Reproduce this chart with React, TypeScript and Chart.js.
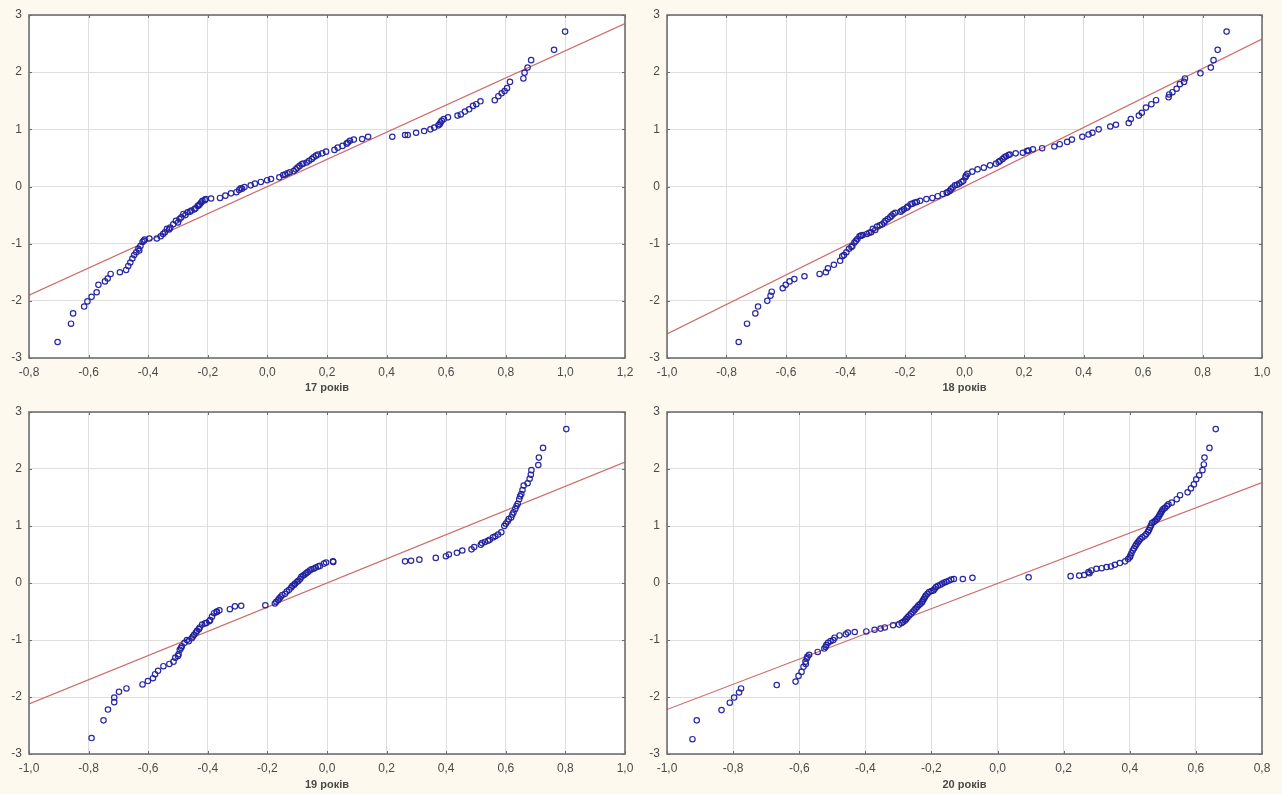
import React, { useEffect, useRef } from "react";
import { Chart, registerables } from "chart.js";

Chart.register(...registerables);

// Normal probability plots: observed value (x) vs expected normal value (y)

const points17: [number, number][] = [
  [-0.704, -2.72], [-0.659, -2.4], [-0.652, -2.22], [-0.615, -2.1], [-0.604, -2.01],
  [-0.59, -1.93], [-0.573, -1.85], [-0.567, -1.72], [-0.545, -1.66], [-0.536, -1.61],
  [-0.526, -1.53], [-0.495, -1.5], [-0.474, -1.46], [-0.467, -1.39], [-0.46, -1.33],
  [-0.453, -1.26], [-0.447, -1.2], [-0.44, -1.15], [-0.433, -1.09], [-0.426, -1.04],
  [-0.419, -0.97], [-0.412, -0.93], [-0.396, -0.91], [-0.371, -0.91], [-0.358, -0.87],
  [-0.344, -0.8], [-0.337, -0.74], [-0.326, -0.72], [-0.316, -0.66], [-0.307, -0.6],
  [-0.289, -0.54], [-0.282, -0.48], [-0.268, -0.45], [-0.255, -0.42], [-0.241, -0.38],
  [-0.234, -0.34], [-0.227, -0.31], [-0.218, -0.25], [-0.207, -0.22], [-0.189, -0.21],
  [-0.159, -0.2], [-0.141, -0.16], [-0.122, -0.12], [-0.104, -0.1], [-0.09, -0.03],
  [-0.077, -0.01], [-0.056, 0.02], [-0.042, 0.05], [-0.022, 0.08], [-0.001, 0.11],
  [0.012, 0.13], [0.04, 0.16], [0.053, 0.2], [0.067, 0.23], [0.088, 0.27],
  [0.101, 0.33], [0.115, 0.39], [0.132, 0.42], [0.149, 0.48], [0.163, 0.54],
  [0.184, 0.58], [0.197, 0.61], [0.225, 0.64], [0.236, 0.68], [0.252, 0.71],
  [0.266, 0.75], [0.277, 0.8], [0.29, 0.82], [0.318, 0.83], [0.338, 0.87],
  [0.419, 0.87], [0.462, 0.9], [0.471, 0.9], [0.499, 0.94], [0.526, 0.97],
  [0.547, 1.0], [0.56, 1.03], [0.574, 1.07], [0.581, 1.12], [0.592, 1.18],
  [0.606, 1.21], [0.638, 1.24], [0.649, 1.26], [0.663, 1.31], [0.677, 1.35],
  [0.69, 1.41], [0.701, 1.44], [0.715, 1.49], [0.763, 1.51], [0.775, 1.58],
  [0.786, 1.63], [0.796, 1.67], [0.804, 1.72], [0.814, 1.83], [0.859, 1.89],
  [0.863, 1.99], [0.873, 2.08], [0.885, 2.21], [0.962, 2.39], [0.999, 2.71],
  [-0.43, -1.12], [-0.415, -0.95], [-0.35, -0.83], [-0.33, -0.75], [-0.3, -0.63],
  [-0.295, -0.57], [-0.275, -0.5], [-0.26, -0.44], [-0.245, -0.4], [-0.23, -0.33],
  [-0.222, -0.28], [-0.21, -0.24], [-0.095, -0.06], [-0.085, -0.04], [0.06, 0.21],
  [0.075, 0.25], [0.095, 0.3], [0.108, 0.36], [0.12, 0.4], [0.14, 0.45],
  [0.155, 0.51], [0.17, 0.56], [0.27, 0.77], [0.578, 1.09], [0.585, 1.15],
];

const points18: [number, number][] = [
  [-0.759, -2.72], [-0.731, -2.4], [-0.703, -2.22], [-0.694, -2.1], [-0.663, -2.0],
  [-0.652, -1.91], [-0.648, -1.84], [-0.611, -1.78], [-0.601, -1.72], [-0.588, -1.66],
  [-0.572, -1.62], [-0.538, -1.57], [-0.487, -1.53], [-0.466, -1.5], [-0.459, -1.43],
  [-0.439, -1.37], [-0.418, -1.3], [-0.411, -1.22], [-0.397, -1.15], [-0.388, -1.09],
  [-0.377, -1.04], [-0.37, -0.98], [-0.36, -0.92], [-0.353, -0.87], [-0.342, -0.85],
  [-0.328, -0.83], [-0.314, -0.8], [-0.308, -0.74], [-0.294, -0.7], [-0.277, -0.66],
  [-0.266, -0.6], [-0.25, -0.54], [-0.239, -0.48], [-0.215, -0.44], [-0.204, -0.4],
  [-0.194, -0.37], [-0.181, -0.31], [-0.167, -0.28], [-0.149, -0.25], [-0.128, -0.22],
  [-0.108, -0.2], [-0.09, -0.17], [-0.073, -0.13], [-0.057, -0.1], [-0.046, -0.05],
  [-0.032, 0.02], [-0.018, 0.05], [-0.004, 0.1], [0.003, 0.16], [0.01, 0.22],
  [0.026, 0.26], [0.044, 0.3], [0.065, 0.33], [0.086, 0.37], [0.106, 0.4],
  [0.12, 0.45], [0.134, 0.51], [0.148, 0.55], [0.172, 0.58], [0.196, 0.59],
  [0.21, 0.62], [0.23, 0.65], [0.261, 0.67], [0.302, 0.7], [0.32, 0.74],
  [0.345, 0.78], [0.361, 0.82], [0.396, 0.87], [0.417, 0.91], [0.43, 0.94],
  [0.451, 1.0], [0.49, 1.05], [0.509, 1.08], [0.552, 1.11], [0.559, 1.18],
  [0.586, 1.24], [0.596, 1.29], [0.61, 1.38], [0.628, 1.44], [0.644, 1.51],
  [0.686, 1.56], [0.688, 1.61], [0.699, 1.65], [0.713, 1.71], [0.724, 1.79],
  [0.738, 1.83], [0.741, 1.89], [0.793, 1.98], [0.828, 2.08], [0.837, 2.21],
  [0.851, 2.39], [0.881, 2.71],
  [-0.405, -1.2], [-0.38, -1.06], [-0.365, -0.95], [-0.348, -0.86], [-0.32, -0.81],
  [-0.3, -0.76], [-0.285, -0.68], [-0.27, -0.63], [-0.258, -0.57], [-0.245, -0.51],
  [-0.233, -0.46], [-0.21, -0.42], [-0.19, -0.35], [-0.175, -0.3], [-0.16, -0.27],
  [-0.06, -0.11], [-0.05, -0.08], [-0.04, -0.02], [-0.025, 0.03], [-0.01, 0.08],
  [0.005, 0.19], [0.115, 0.43], [0.128, 0.48], [0.14, 0.53], [0.152, 0.56],
  [0.215, 0.63],
];

const points19: [number, number][] = [
  [-0.79, -2.72], [-0.75, -2.41], [-0.735, -2.22], [-0.714, -2.09], [-0.714, -2.01],
  [-0.698, -1.91], [-0.673, -1.85], [-0.619, -1.78], [-0.601, -1.72], [-0.584, -1.67],
  [-0.577, -1.6], [-0.567, -1.54], [-0.549, -1.46], [-0.529, -1.42], [-0.515, -1.38],
  [-0.509, -1.31], [-0.498, -1.25], [-0.494, -1.17], [-0.487, -1.11], [-0.478, -1.05],
  [-0.464, -1.02], [-0.454, -0.97], [-0.446, -0.91], [-0.436, -0.84], [-0.427, -0.78],
  [-0.419, -0.73], [-0.405, -0.7], [-0.392, -0.65], [-0.386, -0.59], [-0.379, -0.53],
  [-0.37, -0.5], [-0.361, -0.48], [-0.326, -0.46], [-0.309, -0.41], [-0.288, -0.4],
  [-0.207, -0.39], [-0.175, -0.36], [-0.164, -0.3], [-0.155, -0.24], [-0.141, -0.19],
  [-0.127, -0.12], [-0.116, -0.05], [-0.107, -0.01], [-0.096, 0.04], [-0.086, 0.11],
  [-0.075, 0.15], [-0.065, 0.19], [-0.052, 0.24], [-0.038, 0.27], [-0.024, 0.3],
  [-0.01, 0.34], [-0.003, 0.36], [0.021, 0.37], [0.262, 0.38], [0.282, 0.39],
  [0.31, 0.41], [0.365, 0.44], [0.399, 0.47], [0.409, 0.5], [0.436, 0.53],
  [0.454, 0.57], [0.485, 0.59], [0.494, 0.63], [0.516, 0.67], [0.53, 0.72],
  [0.546, 0.76], [0.557, 0.8], [0.574, 0.85], [0.585, 0.89], [0.595, 1.0],
  [0.606, 1.08], [0.618, 1.15], [0.626, 1.24], [0.632, 1.3], [0.64, 1.39],
  [0.645, 1.47], [0.652, 1.56], [0.656, 1.63], [0.66, 1.71], [0.673, 1.75],
  [0.68, 1.83], [0.684, 1.9], [0.686, 1.98], [0.709, 2.07], [0.711, 2.2],
  [0.725, 2.37], [0.803, 2.7],
  [-0.5, -1.28], [-0.49, -1.14], [-0.47, -1.0], [-0.45, -0.94], [-0.44, -0.87],
  [-0.43, -0.81], [-0.41, -0.71], [-0.395, -0.67], [-0.37, -0.51], [-0.17, -0.33],
  [-0.16, -0.27], [-0.15, -0.21], [-0.135, -0.15], [-0.12, -0.08], [-0.11, -0.03],
  [-0.1, 0.02], [-0.09, 0.07], [-0.08, 0.13], [-0.07, 0.17], [-0.058, 0.22],
  [-0.045, 0.25], [-0.03, 0.29], [0.52, 0.7], [0.54, 0.74], [0.565, 0.82],
  [0.6, 1.04], [0.61, 1.12], [0.622, 1.2], [0.636, 1.35], [0.648, 1.52],
  [0.02, 0.38],
];

const points20: [number, number][] = [
  [-0.923, -2.74], [-0.91, -2.41], [-0.835, -2.23], [-0.81, -2.1], [-0.797, -2.01],
  [-0.782, -1.92], [-0.776, -1.85], [-0.668, -1.79], [-0.611, -1.73], [-0.602, -1.63],
  [-0.593, -1.56], [-0.587, -1.47], [-0.581, -1.38], [-0.577, -1.32], [-0.57, -1.26],
  [-0.544, -1.21], [-0.524, -1.15], [-0.518, -1.09], [-0.513, -1.05], [-0.497, -1.0],
  [-0.493, -0.96], [-0.478, -0.92], [-0.459, -0.9], [-0.453, -0.87], [-0.432, -0.86],
  [-0.397, -0.85], [-0.372, -0.82], [-0.354, -0.8], [-0.341, -0.78], [-0.316, -0.74],
  [-0.298, -0.73], [-0.285, -0.68], [-0.276, -0.63], [-0.267, -0.57], [-0.257, -0.51],
  [-0.248, -0.45], [-0.239, -0.39], [-0.229, -0.34], [-0.223, -0.28], [-0.217, -0.22],
  [-0.207, -0.16], [-0.194, -0.13], [-0.186, -0.07], [-0.173, -0.03], [-0.161, 0.01],
  [-0.148, 0.04], [-0.132, 0.07], [-0.105, 0.07], [-0.076, 0.09], [0.094, 0.1],
  [0.221, 0.12], [0.247, 0.13], [0.262, 0.14], [0.278, 0.17], [0.284, 0.22],
  [0.299, 0.25], [0.315, 0.26], [0.33, 0.28], [0.343, 0.29], [0.355, 0.32],
  [0.37, 0.35], [0.386, 0.38], [0.395, 0.42], [0.402, 0.48], [0.409, 0.57],
  [0.417, 0.65], [0.424, 0.71], [0.432, 0.77], [0.445, 0.83], [0.455, 0.9],
  [0.461, 0.97], [0.467, 1.05], [0.477, 1.09], [0.486, 1.15], [0.492, 1.21],
  [0.498, 1.27], [0.507, 1.32], [0.517, 1.38], [0.527, 1.41], [0.542, 1.47],
  [0.552, 1.54], [0.575, 1.59], [0.585, 1.66], [0.594, 1.73], [0.601, 1.82],
  [0.61, 1.89], [0.62, 1.98], [0.624, 2.08], [0.626, 2.2], [0.641, 2.37],
  [0.66, 2.7],
  [-0.58, -1.42], [-0.575, -1.29], [-0.52, -1.12], [-0.505, -1.02], [-0.29, -0.7],
  [-0.28, -0.66], [-0.272, -0.6], [-0.262, -0.54], [-0.252, -0.48], [-0.243, -0.42],
  [-0.234, -0.37], [-0.226, -0.31], [-0.22, -0.25], [-0.212, -0.19], [-0.2, -0.14],
  [-0.19, -0.1], [-0.18, -0.05], [-0.167, -0.01], [-0.155, 0.02], [-0.14, 0.06],
  [0.4, 0.45], [0.405, 0.52], [0.413, 0.61], [0.42, 0.68], [0.428, 0.74],
  [0.438, 0.8], [0.45, 0.86], [0.458, 0.93], [0.464, 1.01], [0.472, 1.07],
  [0.482, 1.12], [0.489, 1.18], [0.495, 1.24], [0.502, 1.3], [0.512, 1.35],
  [0.275, 0.19],
];

// Reference lines (end points at the axis limits)
const fit17: [number, number][] = [[-0.8, -1.9], [1.2, 2.85]];
const fit18: [number, number][] = [[-1.0, -2.58], [1.0, 2.58]];
const fit19: [number, number][] = [[-1.0, -2.12], [1.0, 2.12]];
const fit20: [number, number][] = [[-1.0, -2.22], [0.8, 1.76]];

const xRange17 = [-0.8, 1.2];
const xRange18 = [-1.0, 1.0];
const xRange19 = [-1.0, 1.0];
const xRange20 = [-1.0, 0.8];
const yRange = [-3, 3];

const labels = ["17 років", "18 років", "19 років", "20 років"];

const FONT = "'Liberation Sans', Arial, sans-serif";
const TEXT = "#4a4a4a";

const framePlugin = {
  id: "plotFrame",
  beforeDraw(chart: any) {
    const { ctx, chartArea: a } = chart;
    ctx.save();
    ctx.fillStyle = "#ffffff";
    ctx.fillRect(a.left, a.top, a.right - a.left, a.bottom - a.top);
    ctx.restore();
  },
  afterDraw(chart: any) {
    const { ctx, chartArea: a, scales } = chart;
    ctx.save();
    ctx.strokeStyle = "#6c6c6c";
    ctx.lineWidth = 1;
    ctx.beginPath();
    for (const t of scales.x.ticks) {
      const px = Math.round(scales.x.getPixelForValue(t.value)) + 0.5;
      ctx.moveTo(px, a.top);
      ctx.lineTo(px, a.top + 3);
      ctx.moveTo(px, a.bottom);
      ctx.lineTo(px, a.bottom - 3);
    }
    for (const t of scales.y.ticks) {
      const py = Math.round(scales.y.getPixelForValue(t.value)) + 0.5;
      ctx.moveTo(a.left, py);
      ctx.lineTo(a.left + 3, py);
      ctx.moveTo(a.right, py);
      ctx.lineTo(a.right - 3, py);
    }
    ctx.stroke();
    ctx.strokeStyle = "#707070";
    ctx.lineWidth = 1.6;
    ctx.strokeRect(a.left, a.top, a.right - a.left, a.bottom - a.top);
    ctx.restore();
  },
};

type PanelProps = {
  points: [number, number][];
  fit: [number, number][];
  xRange: number[];
  title: string;
  left: number;
  top: number;
  yAxisWidth: number;
  padRight: number;
  xAxisHeight: number;
};

function fmt(v: number) {
  const n = Math.abs(v) < 1e-9 ? 0 : v;
  return n.toFixed(1).replace(".", ",");
}

function Panel(p: PanelProps) {
  const ref = useRef<HTMLCanvasElement>(null);
  useEffect(() => {
    const chart = new Chart(ref.current!, {
      type: "scatter",
      data: {
        datasets: [
          {
            data: p.points.map(([x, y]) => ({ x, y })),
            pointRadius: 2.7,
            pointBorderWidth: 1.2,
            pointBorderColor: "rgba(30,30,160,0.95)",
            pointBackgroundColor: "rgba(0,0,0,0)",
            order: 0,
          },
          {
            data: p.fit.map(([x, y]) => ({ x, y })),
            showLine: true,
            pointRadius: 0,
            borderColor: "#cf6b6b",
            borderWidth: 1.2,
            order: 1,
          } as any,
        ],
      },
      options: {
        responsive: false,
        animation: false,
        events: [],
        layout: { padding: { top: 15, right: p.padRight, bottom: 0, left: 0 } },
        plugins: { legend: { display: false }, tooltip: { enabled: false } },
        scales: {
          x: {
            type: "linear",
            min: p.xRange[0],
            max: p.xRange[1],
            afterFit: (s: any) => {
              s.height = p.xAxisHeight;
            },
            ticks: {
              stepSize: 0.2,
              autoSkip: false,
              maxRotation: 0,
              padding: 7,
              color: TEXT,
              font: { family: FONT, size: 12 },
              callback: (v: any) => fmt(Number(v)),
            },
            grid: { color: "#dedede", lineWidth: 1, drawTicks: false },
            border: { display: false },
            title: {
              display: true,
              text: p.title,
              color: TEXT,
              font: { family: FONT, size: 11, weight: "bold" },
              padding: { top: 0, bottom: 2 },
            },
          },
          y: {
            type: "linear",
            min: yRange[0],
            max: yRange[1],
            afterFit: (s: any) => {
              s.width = p.yAxisWidth;
            },
            ticks: {
              stepSize: 1,
              padding: 7,
              color: TEXT,
              font: { family: FONT, size: 12 },
              callback: (v: any) => String(Number(v)),
            },
            grid: { color: "#dedede", lineWidth: 1, drawTicks: false },
            border: { display: false },
          },
        },
      },
      plugins: [framePlugin],
    });
    return () => chart.destroy();
  }, []);
  return (
    <canvas
      ref={ref}
      width={641}
      height={397}
      style={{ position: "absolute", left: p.left, top: p.top, width: 641, height: 397 }}
    />
  );
}

export default function App() {
  return (
    <div
      style={{
        position: "absolute",
        left: 0,
        top: 0,
        width: 1282,
        height: 794,
        background: "#fdf9ee",
        overflow: "hidden",
      }}
    >
      <Panel points={points17} fit={fit17} xRange={xRange17} title={labels[0]}
        left={0} top={0} yAxisWidth={29} padRight={16} xAxisHeight={39} />
      <Panel points={points18} fit={fit18} xRange={xRange18} title={labels[1]}
        left={641} top={0} yAxisWidth={26} padRight={20} xAxisHeight={39} />
      <Panel points={points19} fit={fit19} xRange={xRange19} title={labels[2]}
        left={0} top={397} yAxisWidth={29} padRight={16} xAxisHeight={40} />
      <Panel points={points20} fit={fit20} xRange={xRange20} title={labels[3]}
        left={641} top={397} yAxisWidth={26} padRight={20} xAxisHeight={40} />
    </div>
  );
}
